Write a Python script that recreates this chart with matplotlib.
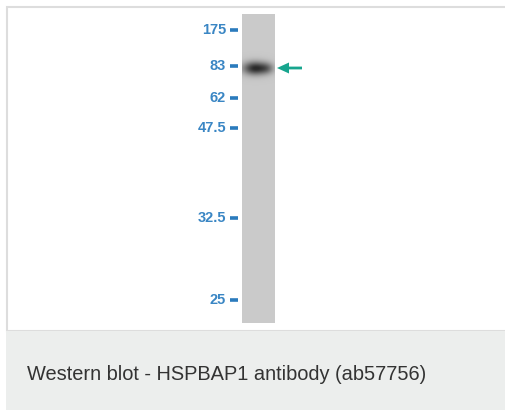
import numpy as np
import matplotlib
matplotlib.use('Agg')
import matplotlib.pyplot as plt
from matplotlib.patches import Rectangle, FancyArrow

# Marker ladder (kDa) and where each one ran on the blot (px from top)
marker_labels = ['175', '83', '62', '47.5', '32.5', '25']
marker_pos = [30, 66, 98, 128, 218, 300]

# The single detected band
band_pos = 68
band_strength = 0.62

caption = 'Western blot - HSPBAP1 antibody (ab57756)'

plt.rcParams['font.family'] = ['Liberation Sans', 'DejaVu Sans']

fig = plt.figure(figsize=(5.05, 4.20), dpi=100)
ax = fig.add_axes([0, 0, 1, 1])
ax.axis('off')

# outer frame and caption panel
ax.add_patch(Rectangle((6.5, 6.5), 505, 324, facecolor='white',
                       edgecolor='#dddddd', linewidth=1.5, zorder=1))
ax.add_patch(Rectangle((6, 331), 499, 79, facecolor='#eceeed', edgecolor='none', zorder=1))
ax.text(27, 375, caption, fontsize=14.4, color='#333333', va='center', ha='left')

# lane with the band
lane_x0, lane_x1 = 242, 275
lane_top, lane_bot = 14, 323
yy, xx = np.mgrid[lane_top:lane_bot:0.5, lane_x0:lane_x1:0.5]
lane = np.full(xx.shape, 0.79)
blob = np.exp(-((xx - 255) / 12.0) ** 2 - ((yy - band_pos) / 6.5) ** 2)
blob += 0.35 * np.exp(-((xx - 267) / 7.0) ** 2 - ((yy - band_pos) / 5.5) ** 2)
lane = lane - band_strength * np.clip(blob, 0, 1.0)
ax.imshow(lane, cmap='gray', vmin=0, vmax=1, extent=(lane_x0, lane_x1, lane_bot, lane_top),
          aspect='auto', interpolation='bilinear', zorder=2)

# ladder labels and dashes
for lab, y in zip(marker_labels, marker_pos):
    ax.text(226, y, lab, fontsize=10.5, color='#3a86c4', ha='right', va='center',
            fontweight='bold', zorder=3)
    ax.plot([229.5, 238], [y, y], color='#2b7bbd', linewidth=2.6, solid_capstyle='butt', zorder=3)

# arrow pointing at the band
ax.add_patch(FancyArrow(302, band_pos, -25, 0, width=2.8, head_width=11, head_length=12,
                        length_includes_head=True, color='#17a58e', linewidth=0, zorder=3))

ax.set_xlim(0, 505)
ax.set_ylim(420, 0)
fig.savefig('out.png', dpi=100)
